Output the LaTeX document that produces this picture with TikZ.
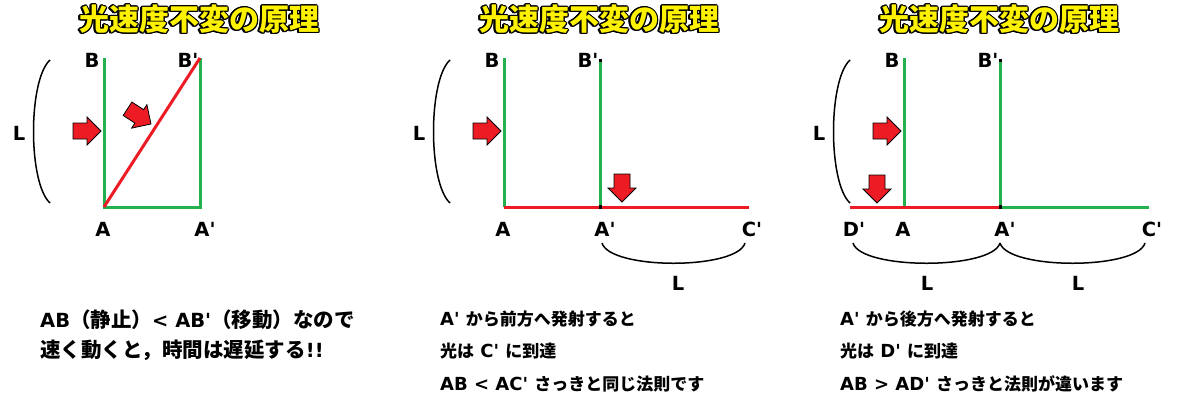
\documentclass[tikz,border=0pt]{standalone}
\usepackage{fontspec}
\newfontfamily\lat{DejaVu Sans}
\newfontfamily\jp{Noto Sans CJK JP}
\usepackage[copies]{contour}
\contourlength{1.3pt}
\usetikzlibrary{positioning}
\definecolor{paintred}{RGB}{237,28,36}
\definecolor{paintgreen}{RGB}{34,177,76}
\definecolor{paintyellow}{RGB}{255,242,0}
\newcommand{\jsize}{17}
\newcommand{\ja}[1]{{\jp\fontsize{\jsize}{\jsize}\selectfont #1}}
\tikzset{
    wall/.style={paintgreen, line width=3pt},
    ray/.style={paintred, line width=3pt},
    brace/.style={black, line width=1.5pt},
    point/.style={font=\lat\bfseries\fontsize{19.5}{19.5}\selectfont, anchor=base, inner sep=0pt},
    note/.style={font=\lat\bfseries\fontsize{18}{18}\selectfont\renewcommand{\jsize}{17}, anchor=base west, inner sep=0pt},
    bignote/.style={font=\lat\bfseries\fontsize{19.5}{19.5}\selectfont\renewcommand{\jsize}{20.5}, anchor=base west, inner sep=0pt},
    headline/.style={font=\jp\bfseries\fontsize{30}{30}\selectfont, text=paintyellow, inner sep=0pt},
    push/.pic={\draw[fill=paintred, draw=black, line width=0.8pt] (0,0) -- (-14,-14) -- (-14,-8) -- (-28,-8) -- (-28,8) -- (-14,8) -- (-14,14) -- cycle;} }

\begin{document}
\begin{tikzpicture}[x=1pt, y=-1pt]
			\useasboundingbox (0,0) rectangle (1200,400);
			% ---- stationary
			\node[headline] (TITLE1) at (199,20) {\contour{black}{光速度不変の原理}};
			\coordinate (A1) at (104,207);
			\coordinate (B1) at (104,58);
			\coordinate (Ap1) at (200,207);
			\coordinate (Bp1) at (200,58);
			\coordinate (P1t) at (50,60);
			\coordinate (P1b) at (50,203);
			\node[point] (B1lab) at (92,67) {B};
			\node[point] (Bp1lab) at (188,67) {B'};
			\node[point] (A1lab) at (103,236) {A};
			\node[point] (Ap1lab) at (205,236) {A'};
			\node[point] (L1lab) at (19,140) {L};
			\draw[wall] (B1) -- (A1) -- (Ap1) -- (Bp1);
			\draw[ray] (A1) -- (Bp1);
			\draw[brace] (P1t) .. controls +(-22,20) and +(-22,-20) .. (P1b);
			\pic (shot1) at (101,131) {push};
			\pic[rotate=-33] (slant1) at (151,124) {push};
			\node[bignote] (NOTE1a) at (40,327) {AB\ja{（静止）}< AB'\ja{（移動）なので}};
			\node[bignote] (NOTE1b) at (40,357) {\ja{速く動くと，時間は遅延する}!!};
			% ---- forward
			\node[headline] (TITLE2) at (599,20) {\contour{black}{光速度不変の原理}};
			\coordinate (A2) at (504,207);
			\coordinate (B2) at (504,58);
			\coordinate (Ap2) at (600,207);
			\coordinate (Bp2) at (600,60);
			\coordinate (Cp2) at (749,207);
			\coordinate (P2t) at (450,60);
			\coordinate (P2b) at (450,203);
			\coordinate (U2l) at (602,243);
			\coordinate (U2r) at (745,243);
			\node[point] (B2lab) at (492,67) {B};
			\node[point] (Bp2lab) at (588,67) {B'};
			\node[point] (A2lab) at (503,236) {A};
			\node[point] (Ap2lab) at (605,236) {A'};
			\node[point] (Cp2lab) at (752,236) {C'};
			\node[point] (L2lab) at (419,140) {L};
			\node[point] (L2low) at (678,290) {L};
			\draw[wall] (B2) -- (A2);
			\draw[wall] (Bp2) -- (Ap2);
			\draw[ray] (A2) -- (Cp2);
			\draw[black, line width=3pt] (600,59) -- (600,62);
			\draw[black, line width=3pt] (600,205) -- (600,209);
			\draw[brace] (P2t) .. controls +(-22,20) and +(-22,-20) .. (P2b);
			\draw[brace] (U2l) .. controls +(8,27) and +(-8,27) .. (U2r);
			\pic (shot2) at (501,131) {push};
			\pic[rotate=-90] (drop2) at (622,202) {push};
			\node[note] (NOTE2a) at (440,325) {A' \ja{から前方へ発射すると}};
			\node[note] (NOTE2b) at (440,357) {\ja{光は} C' \ja{に到達}};
			\node[note] (NOTE2c) at (440,390) {AB < AC' \ja{さっきと同じ法則です}};
			% ---- backward
			\node[headline] (TITLE3) at (999,20) {\contour{black}{光速度不変の原理}};
			\coordinate (A3) at (904,207);
			\coordinate (B3) at (904,58);
			\coordinate (Ap3) at (1000,207);
			\coordinate (Bp3) at (1000,60);
			\coordinate (Cp3) at (1149,207);
			\coordinate (Dp3) at (850,207);
			\coordinate (P3t) at (850,60);
			\coordinate (P3b) at (850,203);
			\coordinate (U3l) at (853,243);
			\coordinate (U3m) at (1000,243);
			\coordinate (U3r) at (1145,243);
			\node[point] (B3lab) at (892,67) {B};
			\node[point] (Bp3lab) at (988,67) {B'};
			\node[point] (Dp3lab) at (854,236) {D'};
			\node[point] (A3lab) at (903,236) {A};
			\node[point] (Ap3lab) at (1005,236) {A'};
			\node[point] (Cp3lab) at (1152,236) {C'};
			\node[point] (L3lab) at (819,140) {L};
			\node[point] (L3left) at (927,290) {L};
			\node[point] (L3right) at (1078,290) {L};
			\draw[wall] (B3) -- (A3);
			\draw[wall] (Bp3) -- (Ap3);
			\draw[wall] (Ap3) -- (Cp3);
			\draw[ray] (Dp3) -- (Ap3);
			\draw[black, line width=3pt] (1000,59) -- (1000,62);
			\draw[black, line width=3pt] (1000,205) -- (1000,209);
			\draw[brace] (P3t) .. controls +(-22,20) and +(-22,-20) .. (P3b);
			\draw[brace] (U3l) .. controls +(8,27) and +(-8,27) .. (U3m);
			\draw[brace] (U3m) .. controls +(8,27) and +(-8,27) .. (U3r);
			\pic (shot3) at (901,131) {push};
			\pic[rotate=-90] (drop3) at (877,203) {push};
			\node[note] (NOTE3a) at (840,325) {A' \ja{から後方へ発射すると}};
			\node[note] (NOTE3b) at (840,357) {\ja{光は} D' \ja{に到達}};
			\node[note] (NOTE3c) at (840,390) {AB > AD' \ja{さっきと法則が違います}};
		\end{tikzpicture}
\end{document}
